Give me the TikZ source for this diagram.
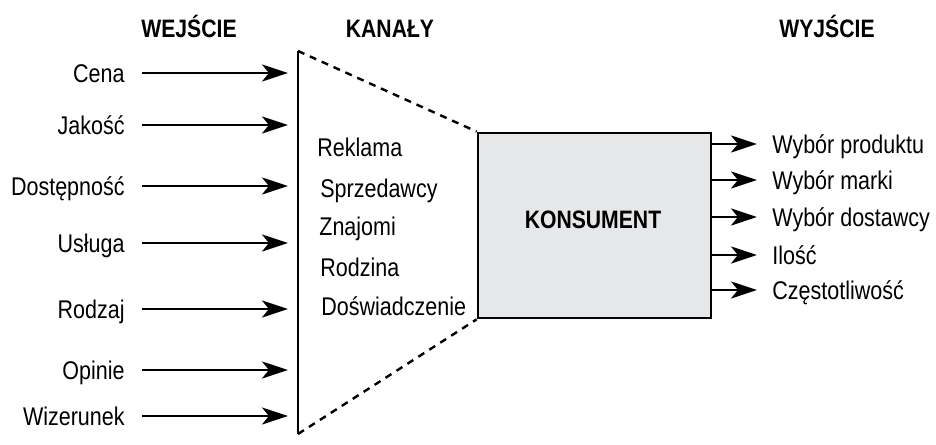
\documentclass[tikz,border=0pt]{standalone}
\usepackage{fontspec}
\setmainfont{Liberation Sans}[FakeStretch=0.84]
\usetikzlibrary{arrows.meta}
\definecolor{boxgray}{HTML}{E6E7E8}

\begin{document}
\begin{tikzpicture}[x=0.5pt,y=-0.5pt,
    lab/.style={inner sep=0pt, text height=9.1pt, text depth=0pt, font=\fontsize{12.8}{15}\selectfont},
    head/.style={lab, font=\fontsize{12.6}{15}\selectfont\bfseries},
    arr/.style={line width=1.4pt, -{Stealth[length=13pt,width=8.5pt,inset=3.5pt]}},
    cutline/.style={line width=1.2pt, dash pattern=on 3.5pt off 3pt},
    consbox/.style={draw, line width=1.4pt, fill=boxgray, inner sep=0pt, minimum width=116.5pt, minimum height=92.5pt}]
    \useasboundingbox (0,0) rectangle (936,444);
    % column heads
    \node[head] (wej) at (189,28) {WEJŚCIE};
    \node[head] (kan) at (390,28) {KANAŁY};
    \node[head] (wyj) at (827,28) {WYJŚCIE};
    % channels
    \coordinate (tl) at (298,51);
    \coordinate (bl) at (298,434);
    \node[consbox] (kons) at (594.5,225.5) {};
    \node[head] (konslab) at (593,219) {KONSUMENT};
    \draw[line width=1.4pt] (tl) -- (bl);
    \draw[cutline] (tl) -- (kons.north west);
    \draw[cutline] (bl) -- (kons.south west);
    \node[lab,anchor=west] (rek) at (317,147) {Reklama};
    \node[lab,anchor=west] (sprz) at (320,188) {Sprzedawcy};
    \node[lab,anchor=west] (znaj) at (319,226) {Znajomi};
    \node[lab,anchor=west] (rodz) at (320,267) {Rodzina};
    \node[lab,anchor=west] (dosw) at (321,306) {Doświadczenie};
    % inputs
    \node[lab,anchor=east] (cena) at (125,73) {Cena};
    \node[lab,anchor=east] (jak) at (125,125) {Jakość};
    \node[lab,anchor=east] (dost) at (125,186) {Dostępność};
    \node[lab,anchor=east] (usl) at (125,243) {Usługa};
    \node[lab,anchor=east] (rodzaj) at (125,309) {Rodzaj};
    \node[lab,anchor=east] (opin) at (125,370) {Opinie};
    \node[lab,anchor=east] (wiz) at (125,416) {Wizerunek};
    \draw[arr, shorten <=8.5pt, shorten >=5pt] (cena.east) -- (cena.east -| tl);
    \draw[arr, shorten <=8.5pt, shorten >=5pt] (jak.east) -- (jak.east -| tl);
    \draw[arr, shorten <=8.5pt, shorten >=5pt] (dost.east) -- (dost.east -| tl);
    \draw[arr, shorten <=8.5pt, shorten >=5pt] (usl.east) -- (usl.east -| tl);
    \draw[arr, shorten <=8.5pt, shorten >=5pt] (rodzaj.east) -- (rodzaj.east -| tl);
    \draw[arr, shorten <=8.5pt, shorten >=5pt] (opin.east) -- (opin.east -| tl);
    \draw[arr, shorten <=8.5pt, shorten >=5pt] (wiz.east) -- (wiz.east -| tl);
    % outputs
    \node[lab,anchor=west] (prod) at (772,144) {Wybór produktu};
    \node[lab,anchor=west] (mark) at (772,180) {Wybór marki};
    \node[lab,anchor=west] (dostaw) at (772,217) {Wybór dostawcy};
    \node[lab,anchor=west] (ilosc) at (772,255) {Ilość};
    \node[lab,anchor=west] (czest) at (772,290) {Częstotliwość};
    \draw[arr, shorten >=7.5pt] (prod.west -| kons.east) -- (prod.west);
    \draw[arr, shorten >=7.5pt] (mark.west -| kons.east) -- (mark.west);
    \draw[arr, shorten >=7.5pt] (dostaw.west -| kons.east) -- (dostaw.west);
    \draw[arr, shorten >=7.5pt] (ilosc.west -| kons.east) -- (ilosc.west);
    \draw[arr, shorten >=7.5pt] (czest.west -| kons.east) -- (czest.west);
\end{tikzpicture}
\end{document}
